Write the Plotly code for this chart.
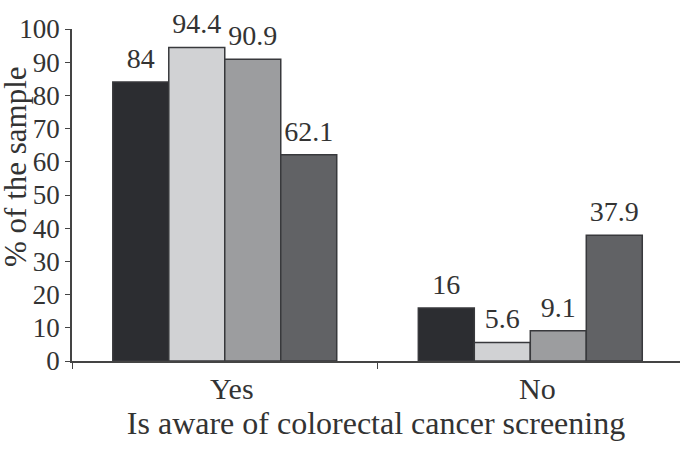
import plotly.graph_objects as go

categories = ["Yes", "No"]
series_names = ["<5", "5-10", "10-15", ">15"]
values_lt5 = [84, 16]
values_5_10 = [94.4, 5.6]
values_10_15 = [90.9, 9.1]
values_gt15 = [62.1, 37.9]
colors = ["#2c2d31", "#d1d2d4", "#9c9d9f", "#616265"]
y_title = "% of the sample"
x_title = "Is aware of colorectal cancer screening"

all_values = [values_lt5, values_5_10, values_10_15, values_gt15]
FONT = "Liberation Serif, Times New Roman, serif"
TXT = "#333333"
GAP = 0.267
legend_ids = ["legend", "legend2", "legend3", "legend4"]
legend_px = [24, 162, 328, 516]

fig = go.Figure()
for name, vals, col, lid in zip(series_names, all_values, colors, legend_ids):
    fig.add_trace(go.Bar(
        x=categories, y=vals, name=name, legend=lid,
        marker=dict(color=col, line=dict(color="#38393c", width=1.5)),
    ))
for name, vals in zip(series_names, all_values):
    fig.add_trace(go.Scatter(
        x=categories, y=vals, mode="markers+text", showlegend=False,
        marker=dict(size=10, color="rgba(0,0,0,0)"),
        text=[f"{v:g}" for v in vals], textposition="top center",
        textfont=dict(family=FONT, size=28, color=TXT),
        cliponaxis=False, hoverinfo="skip",
    ))

legend_common = dict(orientation="h", xanchor="left", y=-0.28, yanchor="top",
                     font=dict(family=FONT, size=27, color=TXT),
                     bgcolor="rgba(0,0,0,0)")
legend_layout = {}
for lid, px in zip(legend_ids, legend_px):
    legend_layout[lid] = dict(legend_common, x=(px - 72) / 608)

fig.update_layout(
    width=680, height=465,
    margin=dict(l=72, r=0, t=29, b=104, autoexpand=False),
    paper_bgcolor="white", plot_bgcolor="white",
    barmode="group", bargap=GAP, bargroupgap=0,
    scattermode="group", scattergap=GAP,
    font=dict(family=FONT, size=27, color=TXT),
    showlegend=True,
    annotations=[dict(
        text=y_title, textangle=-90, xref="paper", yref="paper",
        x=(16 - 72) / 608, xanchor="center",
        y=(361 - 167) / 332, yanchor="middle", showarrow=False,
        font=dict(family=FONT, size=31, color=TXT),
    )],
    **legend_layout,
)
fig.update_xaxes(
    range=[-0.5, 1.49], showline=True, linecolor="#444444", linewidth=1.5,
    ticks="outside", tickson="boundaries", ticklen=6, tickcolor="#444444",
    ticklabelshift=7, automargin=False,
    tickfont=dict(family=FONT, size=30, color=TXT),
    title=dict(text=x_title, font=dict(family=FONT, size=32, color=TXT), standoff=6),
    showgrid=False, zeroline=False,
)
fig.update_yaxes(
    range=[0, 100], dtick=10, showline=True, linecolor="#444444", linewidth=1.5,
    ticks="outside", ticklen=5, tickcolor="#444444", automargin=False,
    tickfont=dict(family=FONT, size=27, color=TXT),
    showgrid=False, zeroline=False,
)

fig.write_html("out.html")
